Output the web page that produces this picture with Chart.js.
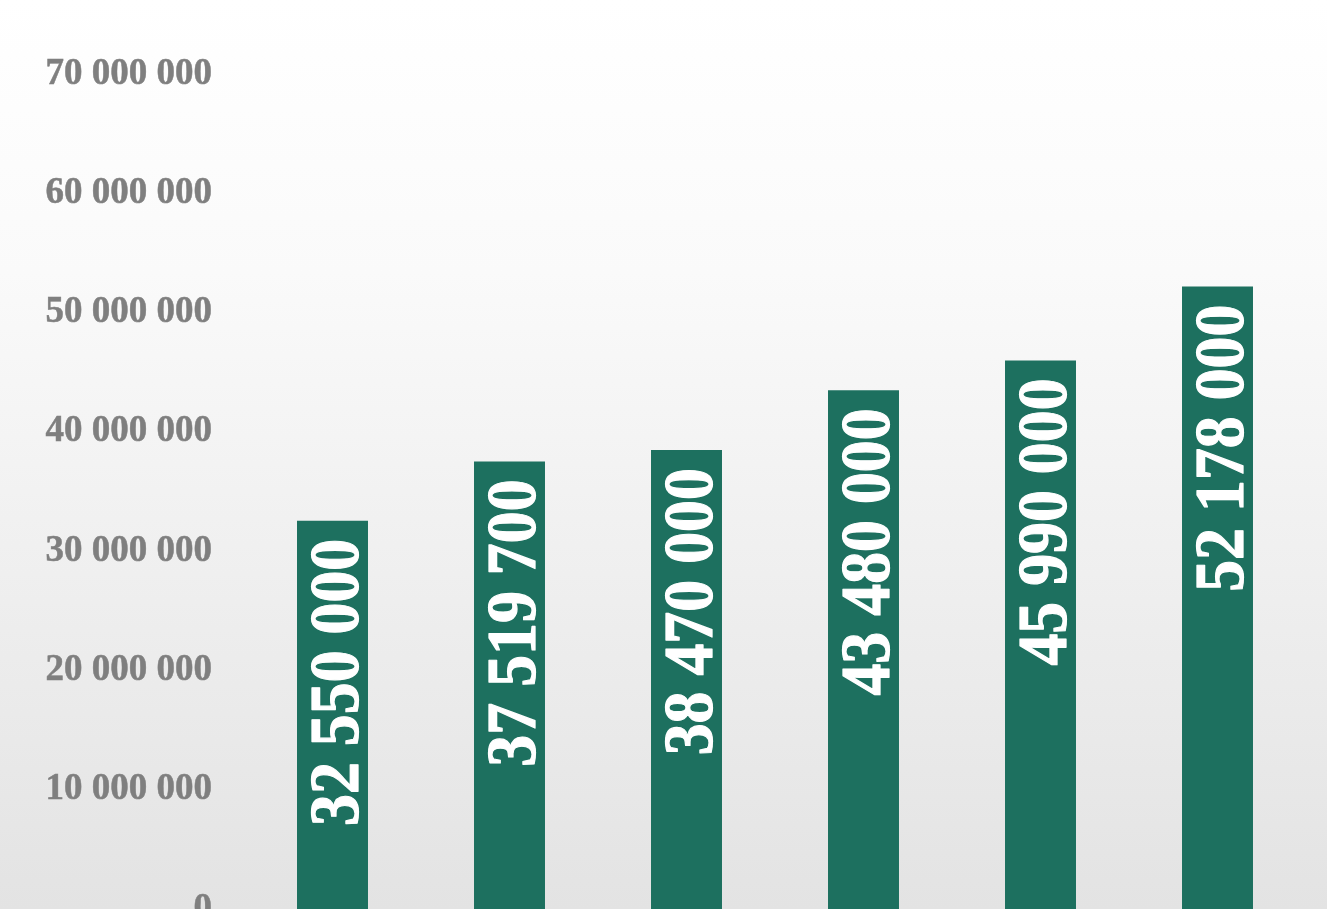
<!DOCTYPE html>
<html>
<head>
<meta charset="utf-8">
<script src="https://cdn.jsdelivr.net/npm/chart.js@4"></script>
<style>
  html, body { margin: 0; padding: 0; width: 1327px; height: 909px; overflow: hidden;
    background: linear-gradient(to bottom, #ffffff 0%, #fafafa 30%, #f0f0f0 60%, #e3e3e3 100%); }
  canvas { display: block; }
</style>
</head>
<body>
<canvas id="c" width="1327" height="909" style="width:1327px;height:909px"></canvas>
<script>
const categories = ['1', '2', '3', '4', '5', '6'];
const values = [32550000, 37519700, 38470000, 43480000, 45990000, 52178000];
const yTicks = [0, 10000000, 20000000, 30000000, 40000000, 50000000, 60000000, 70000000];

const BAR_COLOR = '#1d705f';
const SERIF = "'Liberation Serif', serif";
const fmt = v => String(v).replace(/\B(?=(\d{3})+(?!\d))/g, ' ');

const barLabels = {
  id: 'barLabels',
  afterDatasetsDraw(chart) {
    const ctx = chart.ctx;
    const meta = chart.getDatasetMeta(0);
    ctx.save();
    ctx.fillStyle = '#ffffff';
    ctx.strokeStyle = '#ffffff';
    ctx.lineWidth = 1.2;
    ctx.lineJoin = 'round';
    ctx.font = 'bold 69px ' + SERIF;
    ctx.textAlign = 'right';
    ctx.textBaseline = 'alphabetic';
    meta.data.forEach((bar, i) => {
      ctx.save();
      ctx.translate(bar.x + 25, bar.y + 18);
      ctx.rotate(-Math.PI / 2);
      ctx.scale(0.925, 1);
      ctx.fillText(fmt(values[i]), 0, 0);
      ctx.strokeText(fmt(values[i]), 0, 0);
      ctx.restore();
    });
    ctx.restore();
  }
};

new Chart(document.getElementById('c'), {
  type: 'bar',
  data: {
    labels: categories,
    datasets: [{
      data: values,
      backgroundColor: BAR_COLOR,
      borderWidth: 0,
      barPercentage: 0.401,
      categoryPercentage: 1.0
    }]
  },
  options: {
    responsive: false,
    maintainAspectRatio: false,
    animation: false,
    devicePixelRatio: 1,
    layout: { padding: { top: 74, bottom: -1, left: 0, right: 21 } },
    plugins: { legend: { display: false }, tooltip: { enabled: false } },
    scales: {
      x: { display: false },
      y: {
        min: 0,
        max: 70000000,
        afterBuildTicks(scale) { scale.ticks = yTicks.map(v => ({ value: v })); },
        afterFit(scale) {
          scale.width = 244;
          scale.paddingTop = 0;
          scale.paddingBottom = 0;
        },
        grid: { display: false, drawTicks: false },
        border: { display: false },
        ticks: {
          padding: 32,
          color: '#7f7f7f',
          textStrokeColor: '#7f7f7f',
          textStrokeWidth: 0.5,
          font: { family: SERIF, size: 37, weight: 'bold' },
          callback: v => fmt(v)
        }
      }
    }
  },
  plugins: [barLabels]
});
</script>
</body>
</html>
